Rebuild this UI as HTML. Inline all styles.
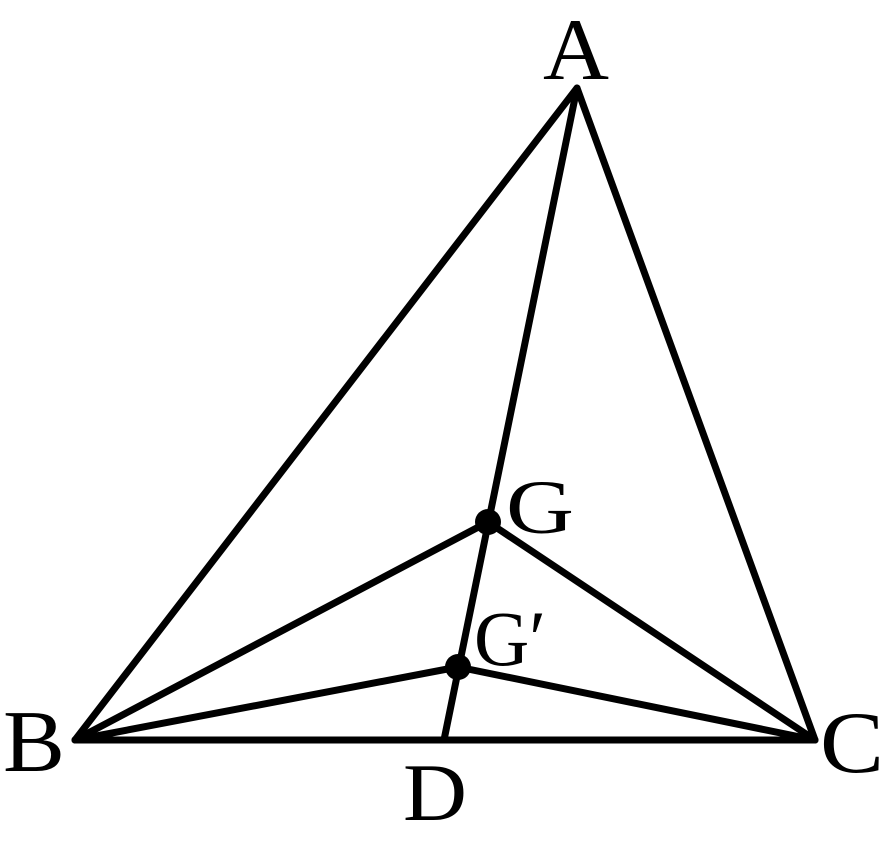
<!DOCTYPE html>
<html><head><meta charset="utf-8"><style>
html,body{margin:0;padding:0;background:#fff;}
svg{display:block;}
text{font-family:"Liberation Serif",serif;fill:#000;}
</style></head><body>
<svg width="889" height="849" viewBox="0 0 889 849" xmlns="http://www.w3.org/2000/svg">
<g stroke="#000" stroke-width="7" fill="none" stroke-linejoin="round" stroke-linecap="round">
<polygon points="577,88 75,740 815,740"/>
<line x1="577" y1="88" x2="444" y2="740"/>
<line x1="75" y1="740" x2="488" y2="522"/>
<line x1="815" y1="740" x2="488" y2="522"/>
<line x1="75" y1="740" x2="458" y2="667"/>
<line x1="815" y1="740" x2="458" y2="667"/>
</g>
<circle cx="488" cy="522" r="13" fill="#000"/>
<circle cx="458" cy="667" r="13" fill="#000"/>
<text x="543" y="79" font-size="88" textLength="66" lengthAdjust="spacingAndGlyphs">A</text>
<text x="3" y="771" font-size="88" textLength="62" lengthAdjust="spacingAndGlyphs">B</text>
<text x="820" y="772" font-size="88" textLength="64" lengthAdjust="spacingAndGlyphs">C</text>
<text x="403" y="820" font-size="82" textLength="64" lengthAdjust="spacingAndGlyphs">D</text>
<text x="506" y="533" font-size="76" textLength="68" lengthAdjust="spacingAndGlyphs">G</text>
<text x="474" y="665" font-size="78" textLength="72" lengthAdjust="spacingAndGlyphs">G′</text>
</svg>
</body></html>
